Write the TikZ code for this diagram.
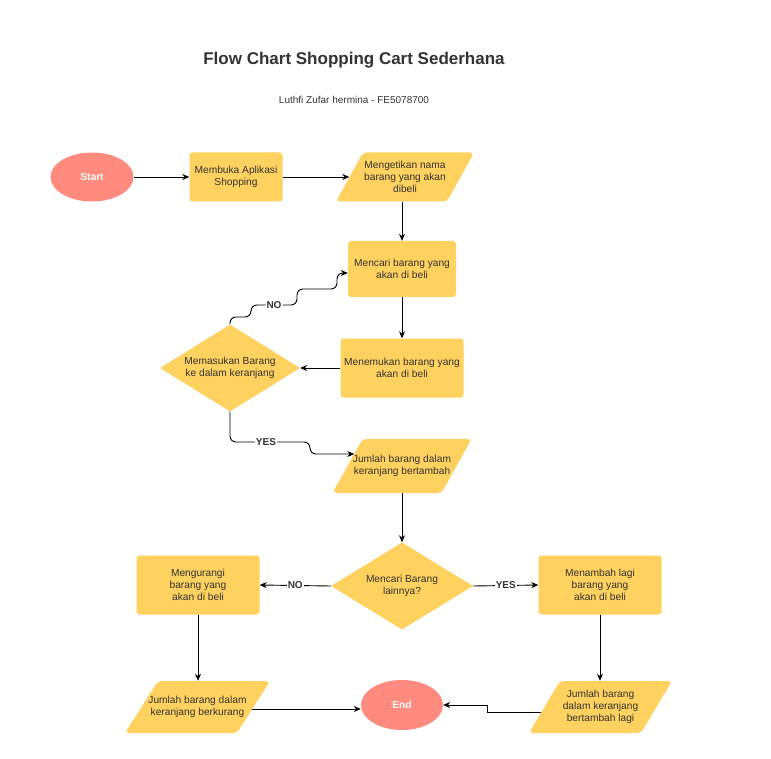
\documentclass[tikz,border=0pt]{standalone}
\usepackage{fontspec}
\setmainfont{Liberation Sans}
\usetikzlibrary{shapes.geometric,arrows.meta,calc}
\definecolor{boxy}{HTML}{FFD15E}
\definecolor{salmon}{HTML}{FF8A7E}
\definecolor{txt}{HTML}{333333}
% #1 cx, #2 cy, #3 total width, #4 height, #5 slant
\newcommand\parafill[5]{%
  \fill[boxy, rounded corners=4]
    ({#1-#3/2},{#2+#4/2}) -- ({#1-#3/2+#5},{#2-#4/2}) --
    ({#1+#3/2},{#2-#4/2}) -- ({#1+#3/2-#5},{#2+#4/2}) -- cycle;}
\begin{document}
\begin{tikzpicture}[x=1pt,y=-1pt,
  every node/.style={font=\fontsize{10.2}{12}\selectfont, text=txt, align=center},
  proc/.style={rectangle, rounded corners=3, fill=boxy, inner sep=0},
  parabox/.style={rectangle, inner sep=0},
  dec/.style={diamond, aspect=1.6, fill=boxy, inner sep=0},
  term/.style={ellipse, fill=salmon, inner sep=0, text=white, font=\fontsize{10.2}{12}\selectfont\bfseries},
  arr/.style={draw=black, line width=0.9pt, -{Stealth[length=7pt,width=6pt]}},
  lbl/.style={fill=white, inner sep=1pt, text=txt, font=\fontsize{10}{12}\selectfont\bfseries}]
\useasboundingbox (0,0) rectangle (771,759);
\fill[white] (0,0) rectangle (771,759);

\node[font=\fontsize{17}{20}\selectfont\bfseries] (title) at (354,60) {Flow Chart Shopping Cart Sederhana};
\node[font=\fontsize{10}{12}\selectfont] (sub) at (354,100) {Luthfi Zufar hermina - FE5078700};

% parallelogram bodies
\parafill{405}{177}{138}{49}{27}
\parafill{402}{466}{139}{54}{30}
\parafill{197.5}{707}{145}{52}{33}
\parafill{600.5}{707}{143}{52}{31}

\node[term, minimum width=83, minimum height=49] (start) at (92,177) {Start};
\node[proc, minimum width=93, minimum height=49] (open) at (236,177) {Membuka Aplikasi\\Shopping};
\node[parabox, minimum width=111, minimum height=49] (type) at (405,177) {Mengetikan nama\\barang yang akan\\dibeli};
\node[proc, minimum width=108, minimum height=56] (search) at (402,269) {Mencari barang yang\\akan di beli};
\node[proc, minimum width=123, minimum height=59] (found) at (402,368) {Menemukan barang yang\\akan di beli};
\node[dec, minimum width=140, minimum height=87] (put) at (230,368) {Memasukan Barang\\ke dalam keranjang};
\node[parabox, minimum width=109, minimum height=54] (addinc) at (402,466) {Jumlah barang dalam\\keranjang bertambah};
\node[dec, minimum width=142, minimum height=87] (more) at (402,586) {Mencari Barang\\lainnya?};
\node[proc, minimum width=123, minimum height=59] (reduce) at (198,585) {Mengurangi\\barang yang\\akan di beli};
\node[proc, minimum width=123, minimum height=59] (addmore) at (600,585) {Menambah lagi\\barang yang\\akan di beli};
\node[parabox, minimum width=112, minimum height=52] (decr) at (197.5,707) {Jumlah barang dalam\\keranjang berkurang};
\node[parabox, minimum width=112, minimum height=52] (inc2) at (600.5,707) {Jumlah barang\\dalam keranjang\\bertambah lagi};
\node[term, minimum width=82, minimum height=50] (end) at (402,705) {End};

\draw[arr] (start.east) -- (open.west);
\draw[arr] (open.east) -- (type.west);
\draw[arr] (search.north |- type.south) -- (search.north);
\draw[arr] (search.south) -- (found.north);
\draw[arr] (found.west) -- (put.east);
\draw[arr, rounded corners=6] (put.north) -- (230,317) -- (251,317) -- (251,305)
  -- node[lbl]{NO} (297,305) -- (297,289) -- (337,289) -- (337,273) -- ($(search.west)+(0,4)$);
\draw[arr, rounded corners=6] (put.south) -- (230,442) -- node[lbl, pos=0.45]{YES} (310,442)
  -- (310,454) -- ($(addinc.west)+(7,-12)$);
\draw[arr] (addinc.south) -- (more.north);
\draw[arr] (more.west) -- node[lbl]{NO} (reduce.east);
\draw[arr] (more.east) -- node[lbl]{YES} (addmore.west);
\draw[arr] (reduce.south) -- (decr.north -| reduce.south);
\draw[arr] (addmore.south) -- (inc2.north -| addmore.south);
\draw[arr] ($(decr.east)+(-2,2)$) -- ($(end.west)+(0,4)$);
\draw[arr] ($(inc2.west)+(-3,5)$) -- (487,712) -- (487,705) -- (end.east);
\end{tikzpicture}
\end{document}
